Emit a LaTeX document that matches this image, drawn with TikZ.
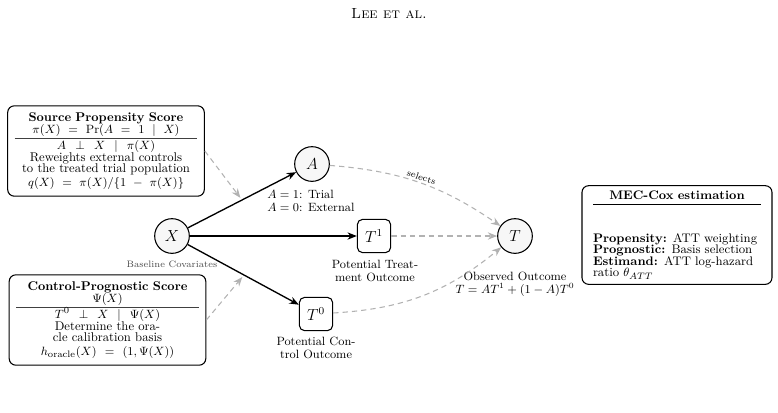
\documentclass[tikz,border=0pt]{standalone}
\usetikzlibrary{arrows.meta,calc,positioning}
\newcommand{\widesp}{\thickmuskip=10mu plus 2mu\medmuskip=9mu plus 2mu}
\begin{document}
\begin{tikzpicture}[x=0.75pt,y=-0.75pt,
  circ/.style={circle,draw,line width=0.8pt,fill=black!3,minimum size=26pt,inner sep=0pt,font=\large},
  sq/.style={rectangle,rounded corners=4pt,draw,line width=0.8pt,fill=white,minimum size=25pt,inner sep=0pt,font=\large},
  lab/.style={font=\fontsize{9}{9.5}\selectfont,align=center,inner sep=0pt},
  bigbox/.style={draw,rounded corners=5pt,line width=0.8pt,fill=white,inner sep=5.25pt,
    font=\fontsize{9.5}{8.9}\selectfont,align=center},
  causal/.style={-{Stealth[length=7pt,width=5.5pt]},line width=1pt},
  weak/.style={-{Stealth[length=7pt,width=5.5pt]},draw=black!30,line width=0.8pt,dash pattern=on 4pt off 3pt}
]
\useasboundingbox (0,0) rectangle (778,412);

\node (hdr) at (389,13) {\fontsize{11}{13}\selectfont\textsc{Lee et al.}};

% main nodes
\node[circ] (X) at (172,236) {$X$};
\node[circ] (A) at (312,164) {$A$};
\node[circ] (T) at (515,236) {$T$};
\node[sq] (T1) at (374,236) {$T^1$};
\node[sq] (T0) at (316,314) {$T^0$};

% labels
\node[lab,font=\scriptsize,text=black!70] (Xl) at (172,264) {Baseline Covariates};
\node[lab,anchor=north west,align=left] (Al) at (267,190) {$A=1$: Trial\\$A=0$: External};
\node[lab,anchor=north] (T1l) at (375,260) {Potential Treat-\\ment Outcome};
\node[lab,anchor=north] (T0l) at (316,337) {Potential Con-\\trol Outcome};
\node[lab,anchor=north] (Tl) at (515,272) {Observed Outcome\\$T=AT^1+(1-A)T^0$};

% boxes
\node[bigbox,text width=137pt] (src) at (106,151) {%
{\bfseries Source Propensity Score}\\
$\widesp\pi(X) = \Pr(A = 1 \mid X)$\\[-5pt]
{\color{black!75}\rule{\linewidth}{0.9pt}}\\[-1pt]
$\widesp A \perp X \mid \pi(X)$\\
Reweights external controls\\
to the treated trial population\\[1pt]
$\widesp q(X) = \pi(X)/\{1 - \pi(X)\}$};

\node[bigbox,text width=137pt] (ctl) at (107.5,320) {%
{\bfseries Control-Prognostic Score}\\
$\Psi(X)$\\[-5pt]
{\color{black!75}\rule{\linewidth}{0.9pt}}\\[-1pt]
$\widesp T^0 \perp X \mid \Psi(X)$\\
Determine the ora-\\
cle calibration basis\\[1pt]
$\widesp h_{\mathrm{oracle}}(X) = (1, \Psi(X))$};

\node[bigbox,text width=126pt,align=left,inner xsep=8.25pt,inner ysep=0pt,minimum height=74pt,
  font=\fontsize{9.3}{8.6}\selectfont] (mec) at (677,235) {%
\makebox[\linewidth][c]{\bfseries MEC-Cox estimation}\\[-5pt]
\rule{\linewidth}{0.6pt}\\[20pt]
\mbox{{\bfseries Propensity:} ATT weighting}\\
\mbox{{\bfseries Prognostic:} Basis selection}\\
\mbox{{\bfseries Estimand:} ATT log-hazard}\\
\mbox{ratio $\theta_{ATT}$}};

% causal edges
\draw[causal] (X) -- (A);
\draw[causal] (X) -- (T1);
\draw[causal] (X) -- (T0);

% outcome edges
\draw[weak] (A) to[bend left=15] node[pos=0.5,sloped,above,font=\scriptsize,inner sep=1.5pt] {selects} (T);
\draw[weak] (T1) -- (T);
\draw[weak] (T0) to[bend right=18] (T);

% score pointers
\coordinate (mXA) at ($(X)!0.5!(A)$);
\coordinate (mXT0) at ($(X)!0.5!(T0)$);
\draw[weak,shorten >=2pt] (src.east) -- (mXA);
\draw[weak,shorten >=2pt] (ctl.east) -- (mXT0);
\end{tikzpicture}
\end{document}
